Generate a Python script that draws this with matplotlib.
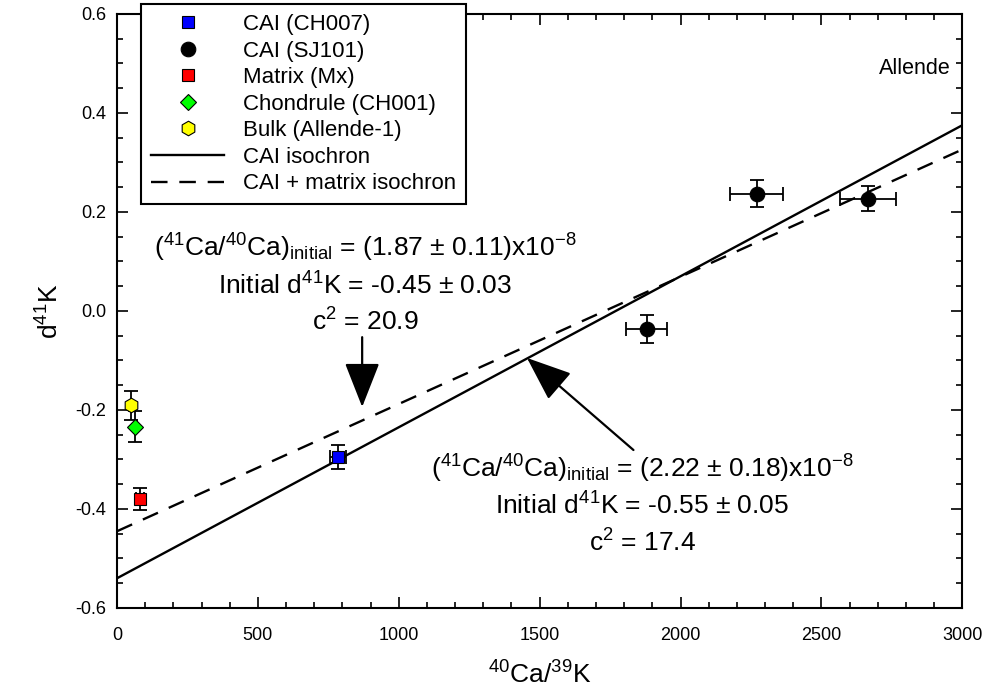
import matplotlib
matplotlib.use("Agg")
import matplotlib.pyplot as plt
import numpy as np

plt.rcParams['font.family'] = ['Liberation Sans', 'DejaVu Sans']
plt.rcParams['mathtext.fontset'] = 'custom'
plt.rcParams['mathtext.rm'] = 'Liberation Sans'
plt.rcParams['mathtext.it'] = 'Liberation Sans:italic'
plt.rcParams['mathtext.bf'] = 'Liberation Sans:bold'

# ---- data ----
ch007_x = [785]
ch007_y = [-0.295]
ch007_xerr = [28]
ch007_yerr = [0.025]

sj101_x = [1880, 2270, 2665]
sj101_y = [-0.036, 0.237, 0.227]
sj101_xerr = [72, 95, 100]
sj101_yerr = [0.028, 0.028, 0.025]

mx_x = [82]
mx_y = [-0.38]
mx_xerr = [15]
mx_yerr = [0.022]

ch001_x = [65]
ch001_y = [-0.234]
ch001_yerr = [0.031]

bulk_x = [50]
bulk_y = [-0.191]
bulk_yerr = [0.03]

# isochrons: intercept, slope (per unit 40Ca/39K)
cai_iso = (-0.54, 3.05e-4)
caimx_iso = (-0.445, 2.57e-4)
xline = np.array([0, 3000])

fig = plt.figure(figsize=(9.92, 6.94), dpi=100)
ax = fig.add_axes([0.118, 0.124, 0.852, 0.856])

ekw = dict(fmt='none', ecolor='black', elinewidth=1.3, capsize=5, capthick=1.3, zorder=3)
ax.errorbar(ch007_x, ch007_y, xerr=ch007_xerr, yerr=ch007_yerr, **ekw)
ax.errorbar(sj101_x, sj101_y, xerr=sj101_xerr, yerr=sj101_yerr, **ekw)
ax.errorbar(mx_x, mx_y, xerr=mx_xerr, yerr=mx_yerr, **ekw)
ax.errorbar(ch001_x, ch001_y, yerr=ch001_yerr, **ekw)
ax.errorbar(bulk_x, bulk_y, yerr=bulk_yerr, **ekw)

mkw = dict(linestyle='none', markeredgecolor='black', markeredgewidth=0.8, zorder=4)
h1, = ax.plot(ch007_x, ch007_y, marker='s', markersize=9, color='#0000ff', label='CAI (CH007)', **mkw)
h2, = ax.plot(sj101_x, sj101_y, marker='o', markersize=10.5, color='black', label='CAI (SJ101)', **mkw)
h3, = ax.plot(mx_x, mx_y, marker='s', markersize=9, color='#ff0000', label='Matrix (Mx)', **mkw)
h4, = ax.plot(ch001_x, ch001_y, marker='D', markersize=8.5, color='#00ff00', label='Chondrule (CH001)', **mkw)
h5, = ax.plot(bulk_x, bulk_y, marker='h', markersize=10.5, color='#ffff00', label='Bulk (Allende-1)', **mkw)

h6, = ax.plot(xline, cai_iso[0] + cai_iso[1] * xline, color='black', lw=1.7, label='CAI isochron', zorder=2)
h7, = ax.plot(xline, caimx_iso[0] + caimx_iso[1] * xline, color='black', lw=1.7,
              dashes=(7, 5), label='CAI + matrix isochron', zorder=2)

ax.set_xlim(0, 3000)
ax.set_ylim(-0.6, 0.6)
ax.set_xticks(np.arange(0, 3001, 500))
ax.set_xticks(np.arange(0, 3001, 100), minor=True)
ax.set_yticks(np.arange(-0.6, 0.61, 0.2))
ax.set_yticks(np.arange(-0.6, 0.61, 0.05), minor=True)
ax.set_yticklabels(['-0.6', '-0.4', '-0.2', '0.0', '0.2', '0.4', '0.6'])
ax.tick_params(which='both', direction='in', top=True, right=True, width=1.2, labelsize=13)
ax.tick_params(axis='x', which='major', pad=14)
ax.tick_params(axis='y', which='major', pad=8)
ax.tick_params(which='major', length=8)
ax.tick_params(which='minor', length=4)
for s in ax.spines.values():
    s.set_linewidth(1.5)

ax.set_xlabel(r'$^{40}$Ca/$^{39}$K', fontsize=19, labelpad=12)
ax.set_ylabel(r'd$^{41}$K', fontsize=19, labelpad=8)

ax.text(2830, 0.49, 'Allende', fontsize=15.5, ha='center', va='center')

# annotation 1 (CAI + matrix isochron)
t1_lines = [r'($^{41}$Ca/$^{40}$Ca)$_{\mathrm{initial}}$ = (1.87 ± 0.11)x10$^{-8}$',
            r'Initial d$^{41}$K = -0.45 ± 0.03',
            r'c$^{2}$ = 20.9']
t1_y = [0.109, 0.032, -0.040]
for s, yy in zip(t1_lines, t1_y):
    ax.text(880, yy, s, fontsize=19, ha='center', va='baseline')

# annotation 2 (CAI isochron)
t2_lines = [r'($^{41}$Ca/$^{40}$Ca)$_{\mathrm{initial}}$ = (2.22 ± 0.18)x10$^{-8}$',
            r'Initial d$^{41}$K = -0.55 ± 0.05',
            r'c$^{2}$ = 17.4']
t2_y = [-0.337, -0.412, -0.487]
for s, yy in zip(t2_lines, t2_y):
    ax.text(1865, yy, s, fontsize=19, ha='center', va='baseline')

aprops = dict(arrowstyle='-|>,head_length=1.4,head_width=0.55', mutation_scale=20,
              lw=1.6, color='black', shrinkA=0, shrinkB=0)
ax.annotate('', xy=(870, -0.194), xytext=(870, -0.053), arrowprops=aprops)
ax.annotate('', xy=(1455, -0.095), xytext=(1833, -0.281), arrowprops=aprops)

leg = ax.legend(handles=[h1, h2, h3, h4, h5, h6, h7], loc='upper left',
                bbox_to_anchor=(141 / 992, 1 - 4 / 694), bbox_transform=fig.transFigure,
                fontsize=16, handlelength=3.3, labelspacing=0.25, borderpad=0.45,
                handletextpad=0.85, borderaxespad=0, fancybox=False, framealpha=1,
                edgecolor='black', numpoints=1)
leg.get_frame().set_linewidth(1.5)
leg.set_zorder(10)

fig.savefig('out.png', dpi=100)
